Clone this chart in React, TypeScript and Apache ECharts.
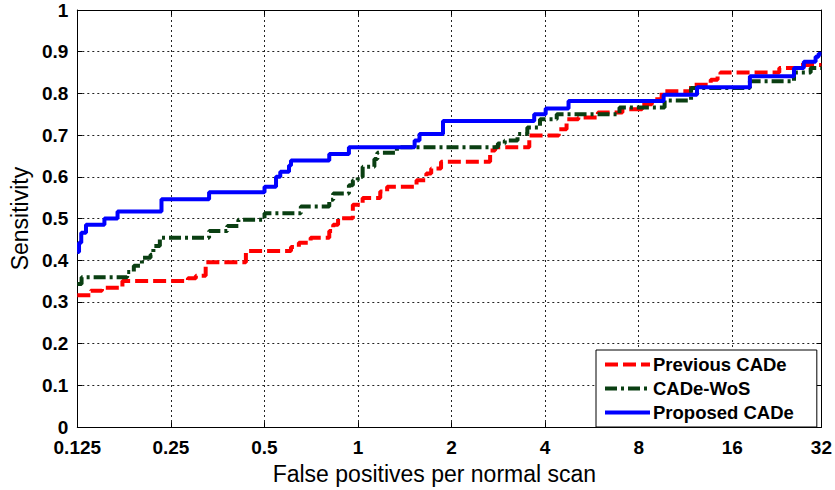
import React, { useEffect, useRef } from "react";
import * as echarts from "echarts";

// False positives per normal scan (x) and sensitivity (y) at each step of the FROC curves
const prevX = [0.125, 0.1381, 0.15, 0.1746, 0.2837, 0.3008, 0.3235, 0.4358, 0.6086, 0.6452, 0.704, 0.8082, 0.8322, 0.8627, 0.9625, 1.035, 1.179, 1.241, 1.543, 1.659, 1.72, 1.85, 2.661, 2.759, 3.557, 4.423, 4.688, 5.115, 5.914, 7.091, 8.203, 8.82, 9.483, 11.79, 13.64, 14.35, 14.66, 22.67, 26.6, 30.97];
const prevY = [0.316, 0.327, 0.334, 0.35, 0.357, 0.363, 0.395, 0.422, 0.432, 0.442, 0.454, 0.47, 0.485, 0.501, 0.533, 0.549, 0.565, 0.576, 0.592, 0.608, 0.62, 0.636, 0.663, 0.671, 0.699, 0.714, 0.738, 0.742, 0.754, 0.762, 0.774, 0.786, 0.805, 0.821, 0.833, 0.845, 0.85, 0.861, 0.868, 0.868];

const wosX = [0.125, 0.129, 0.1809, 0.19, 0.2017, 0.215, 0.2196, 0.2304, 0.3318, 0.3796, 0.4122, 0.5003, 0.6547, 0.8082, 0.8322, 0.9349, 0.9625, 0.998, 1.035, 1.129, 1.154, 1.334, 2.819, 2.966, 3.26, 3.506, 3.85, 4.359, 6.939, 9.692, 11.79, 18.23, 25.28, 28.6, 30.97];
const wosY = [0.343, 0.359, 0.372, 0.387, 0.406, 0.413, 0.434, 0.454, 0.47, 0.482, 0.497, 0.513, 0.529, 0.545, 0.56, 0.58, 0.592, 0.6, 0.624, 0.643, 0.658, 0.671, 0.68, 0.687, 0.703, 0.718, 0.738, 0.75, 0.766, 0.783, 0.813, 0.829, 0.85, 0.861, 0.861];

const propX = [0.125, 0.1266, 0.1287, 0.1333, 0.1528, 0.1684, 0.2332, 0.3318, 0.5003, 0.5448, 0.5622, 0.5998, 0.6086, 0.8082, 0.9349, 1.521, 1.577, 1.877, 3.689, 4.016, 4.757, 9.622, 12.32, 18.23, 25.28, 27.18, 29.66, 30.32, 30.97];
const propY = [0.42, 0.442, 0.466, 0.485, 0.5, 0.517, 0.546, 0.563, 0.576, 0.6, 0.612, 0.627, 0.639, 0.655, 0.671, 0.687, 0.703, 0.734, 0.75, 0.764, 0.782, 0.797, 0.815, 0.841, 0.861, 0.876, 0.888, 0.895, 0.895];

const seriesNames = ["Previous CADe", "CADe-WoS", "Proposed CADe"];
const xTickLabels = ["0.125", "0.25", "0.5", "1", "2", "4", "8", "16", "32"];
const xLog2Min = -3;
const xLog2Max = 4.953;

const FONT = "'Liberation Sans', Arial, Helvetica, sans-serif";

function pairs(xs: number[], ys: number[]) {
  return xs.map((x, i) => [Math.log2(x), ys[i]]);
}

export default function App() {
  const ref = useRef<HTMLDivElement>(null);
  useEffect(() => {
    if (!ref.current) return;
    const chart = echarts.init(ref.current, undefined, { renderer: "svg" });
    const xLabel = (v: number) => {
      if (v > 4.5) return xTickLabels[8];
      const idx = Math.round(v - xLog2Min);
      return xTickLabels[idx] ?? "";
    };
    const tickInside = { show: true, inside: true, length: 5, lineStyle: { color: "#000", width: 1 } };
    const axisLine = { show: true, onZero: false, lineStyle: { color: "#000", width: 1 } };
    chart.setOption({
      animation: false,
      backgroundColor: "#fff",
      grid: { left: 64, right: 12, top: 10, bottom: 58.5, containLabel: false },
      legend: {
        data: seriesNames,
        orient: "vertical",
        left: 596,
        top: 350,
        padding: [5, 23, 5, 7],
        itemWidth: 45,
        itemHeight: 14,
        itemGap: 5,
        backgroundColor: "#fff",
        borderColor: "#000",
        borderWidth: 1,
        borderRadius: 0,
        itemStyle: { opacity: 0 },
        lineStyle: { width: 4 },
        textStyle: { fontFamily: FONT, fontSize: 18.5, fontWeight: "bold", color: "#000", padding: [0, 0, 0, -2] },
      },
      xAxis: [
        {
          type: "value",
          min: xLog2Min,
          max: xLog2Max,
          interval: 1,
          position: "bottom",
          axisLine,
          axisTick: tickInside,
          axisLabel: {
            formatter: xLabel,
            showMaxLabel: true,
            showMinLabel: true,
            margin: 11,
            fontFamily: FONT,
            fontSize: 19,
            fontWeight: "bold",
            color: "#000",
          },
          splitLine: { show: true, lineStyle: { type: [2, 3], color: "#222", width: 1 } },
          name: "False positives per normal scan",
          nameLocation: "middle",
          nameGap: 32,
          nameTextStyle: { fontFamily: FONT, fontSize: 23, color: "#000", padding: [0, 30, 0, 0] },
        },
        {
          type: "value",
          min: xLog2Min,
          max: xLog2Max,
          interval: 1,
          position: "top",
          axisLine,
          axisTick: tickInside,
          axisLabel: { show: false },
          splitLine: { show: false },
        },
      ],
      yAxis: [
        {
          type: "value",
          min: 0,
          max: 1,
          interval: 0.1,
          position: "left",
          axisLine,
          axisTick: tickInside,
          axisLabel: {
            formatter: (v: number) => String(+v.toFixed(1)),
            margin: 9,
            fontFamily: FONT,
            fontSize: 19,
            fontWeight: "bold",
            color: "#000",
          },
          splitLine: { show: true, lineStyle: { type: [2, 3], color: "#222", width: 1 } },
          name: "Sensitivity",
          nameLocation: "middle",
          nameGap: 42,
          nameTextStyle: { fontFamily: FONT, fontSize: 23, color: "#000" },
        },
        {
          type: "value",
          min: 0,
          max: 1,
          interval: 0.1,
          position: "right",
          axisLine,
          axisTick: tickInside,
          axisLabel: { show: false },
          splitLine: { show: false },
        },
      ],
      series: [
        {
          name: seriesNames[0],
          type: "line",
          step: "end",
          symbol: "none",
          data: pairs(prevX, prevY),
          color: "#ff0000",
          lineStyle: { color: "#ff0000", width: 4, type: [13, 5] },
          z: 2,
        },
        {
          name: seriesNames[1],
          type: "line",
          step: "end",
          symbol: "none",
          data: pairs(wosX, wosY),
          color: "#0a3f12",
          lineStyle: { color: "#0a3f12", width: 4, type: [12, 4, 3, 4] },
          z: 3,
        },
        {
          name: seriesNames[2],
          type: "line",
          step: "end",
          symbol: "none",
          data: pairs(propX, propY),
          color: "#0000ff",
          lineStyle: { color: "#0000ff", width: 4, type: "solid" },
          z: 4,
        },
      ],
    });
    return () => chart.dispose();
  }, []);
  return (
    <div
      ref={ref}
      style={{ position: "absolute", left: 0, top: 0, width: 835, height: 490, background: "#fff" }}
    />
  );
}
